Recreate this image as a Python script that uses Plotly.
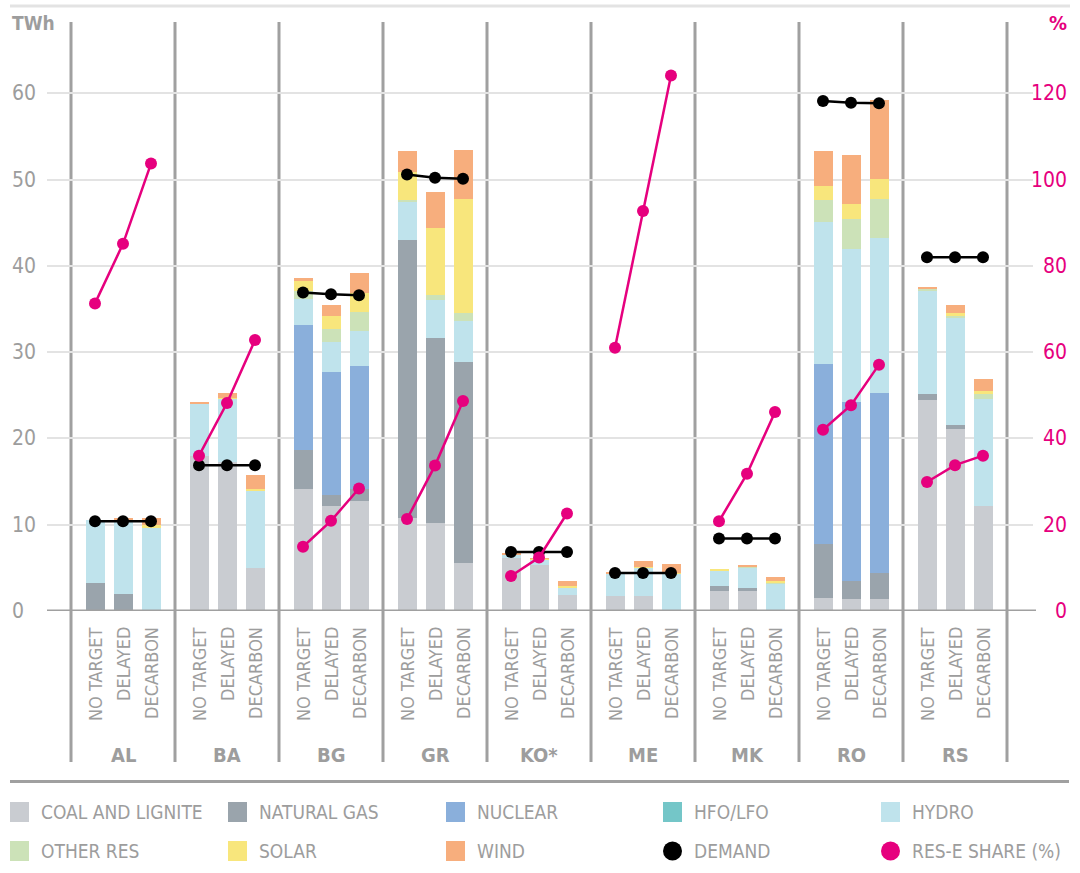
import plotly.graph_objects as go

# ---------------- data ----------------
countries = ["AL", "BA", "BG", "GR", "KO*", "ME", "MK", "RO", "RS"]
scenarios = ["NO TARGET", "DELAYED", "DECARBON"]

# TWh per technology, ordered country by country (NO TARGET, DELAYED, DECARBON)
coal_lignite = [0, 0, 0,  18.0, 17.3, 5.0,  14.1, 12.2, 12.7,  10.8, 10.2, 5.6,  6.1, 5.3, 1.8,
                1.75, 1.75, 0,  2.3, 2.3, 0,  1.5, 1.4, 1.4,  24.4, 21.1, 12.2]
natural_gas = [3.3, 2.0, 0,  0, 0, 0,  4.6, 1.2, 1.4,  32.2, 21.4, 23.3,  0, 0, 0,
               0, 0, 0,  0.6, 0.35, 0,  6.3, 2.1, 3.0,  0.7, 0.4, 0]
nuclear = [0, 0, 0,  0, 0, 0,  14.4, 14.3, 14.3,  0, 0, 0,  0, 0, 0,
           0, 0, 0,  0, 0, 0,  20.8, 20.7, 20.9,  0, 0, 0]
hfo_lfo = [0, 0, 0,  0, 0, 0,  0, 0, 0,  0, 0, 0,  0, 0, 0,
           0, 0, 0,  0, 0, 0,  0, 0, 0,  0, 0, 0]
hydro = [7.3, 8.5, 9.6,  6.1, 7.3, 9.0,  3.1, 3.5, 4.1,  4.5, 4.5, 4.7,  0.4, 0.7, 0.9,
         2.65, 3.25, 4.3,  1.8, 2.35, 3.2,  16.5, 17.7, 17.9,  12.1, 12.5, 12.4]
other_res = [0, 0, 0,  0, 0, 0,  0.9, 1.5, 2.1,  0.1, 0.5, 0.9,  0, 0, 0,
             0, 0, 0,  0, 0.1, 0.1,  2.5, 3.5, 4.6,  0.2, 0.3, 0.6]
solar = [0, 0, 0.35,  0, 0.1, 0.15,  1.2, 1.5, 2.2,  3.3, 7.8, 13.3,  0, 0.05, 0.2,
         0, 0.1, 0.15,  0.1, 0.05, 0.15,  1.6, 1.8, 2.3,  0, 0.2, 0.3]
wind = [0, 0.3, 0.85,  0.15, 0.55, 1.65,  0.3, 1.3, 2.4,  2.4, 4.2, 5.6,  0.15, 0.05, 0.6,
        0.05, 0.7, 1.05,  0, 0.15, 0.5,  4.1, 5.6, 9.1,  0.2, 1.0, 1.4]

demand = [10.4, 10.4, 10.4,  16.9, 16.9, 16.9,  36.9, 36.7, 36.6,  50.6, 50.2, 50.1,  6.85, 6.85, 6.85,
          4.4, 4.4, 4.4,  8.4, 8.4, 8.4,  59.1, 58.9, 58.85,  41.0, 41.0, 41.0]
res_share = [71.3, 85.1, 103.7,  36.0, 48.2, 62.8,  14.9, 20.9, 28.4,  21.3, 33.7, 48.7,  8.1, 12.4, 22.6,
             61.0, 92.7, 124.1,  20.8, 31.8, 46.1,  42.0, 47.7, 57.1,  29.9, 33.8, 36.0]

left_ticks = [0, 10, 20, 30, 40, 50, 60]
right_ticks = [0, 20, 40, 60, 80, 100, 120]

# ---------------- style ----------------
FONT = "Liberation Sans Narrow, Arial Narrow, DejaVu Sans Condensed, sans-serif"
GREY_TXT = "#9d9d9d"
MAGENTA = "#e6007e"
SEP = "#a0a0a0"

tech = [
    ("COAL AND LIGNITE", coal_lignite, "#c9ccd1"),
    ("NATURAL GAS", natural_gas, "#9aa4ac"),
    ("NUCLEAR", nuclear, "#8aafdb"),
    ("HFO/LFO", hfo_lfo, "#74c6c8"),
    ("HYDRO", hydro, "#bfe3ec"),
    ("OTHER RES", other_res, "#cce2b8"),
    ("SOLAR", solar, "#f8e67c"),
    ("WIND", wind, "#f7ae7d"),
]

OFF = 28 / 104
BW = 19 / 104
xpos = [g + (j - 1) * OFF for g in range(len(countries)) for j in range(len(scenarios))]

fig = go.Figure()
for name, vals, col in tech:
    fig.add_trace(go.Bar(x=xpos, y=vals, name=name, width=BW,
                         marker=dict(color=col, line=dict(width=0)), showlegend=False))

# lines broken between countries
def broken(xs, ys):
    bx, by = [], []
    for i in range(len(xs)):
        bx.append(xs[i]); by.append(ys[i])
        if i % 3 == 2:
            bx.append(None); by.append(None)
    return bx, by

dx, dy = broken(xpos, demand)
fig.add_trace(go.Scatter(x=dx, y=dy, mode="lines+markers", name="DEMAND",
                         line=dict(color="black", width=2.5),
                         marker=dict(color="black", size=12), showlegend=False))
rx, ry = broken(xpos, res_share)
fig.add_trace(go.Scatter(x=rx, y=ry, mode="lines+markers", name="RES-E SHARE (%)", yaxis="y2",
                         line=dict(color=MAGENTA, width=2.5),
                         marker=dict(color=MAGENTA, size=12), showlegend=False))

# ---------------- layout geometry ----------------
W, H = 1080, 873
L, R, T, B = 47, 1033, 7, 611
def px(xp):
    return (xp - L) / (R - L)
def py(yp):
    return (B - yp) / (B - T)

shapes = []
annotations = []

# group separators
for g in range(len(countries) + 1):
    shapes.append(dict(type="line", xref="x", yref="paper", x0=g - 0.5, x1=g - 0.5,
                       y0=py(762), y1=py(22), line=dict(color=SEP, width=3), layer="below"))
# baseline
shapes.append(dict(type="line", xref="paper", yref="y", x0=0, x1=px(1036), y0=0, y1=0,
                   line=dict(color=SEP, width=3)))
# top decorative line
shapes.append(dict(type="line", xref="paper", yref="paper", x0=px(10), x1=px(1070), y0=py(6), y1=py(6),
                   line=dict(color="#e3e3e3", width=3)))
# line above legend
shapes.append(dict(type="line", xref="paper", yref="paper", x0=px(10), x1=px(1069), y0=py(781.5), y1=py(781.5),
                   line=dict(color=SEP, width=3)))

# tick labels
for v in left_ticks:
    annotations.append(dict(x=px(10), y=v, xref="paper", yref="y", text=str(v), showarrow=False,
                            xanchor="left", yanchor="middle",
                            font=dict(family=FONT, size=21, color=GREY_TXT)))
for v in right_ticks:
    annotations.append(dict(x=px(1069), y=v, xref="paper", yref="y2", text=str(v), showarrow=False,
                            xanchor="right", yanchor="middle",
                            font=dict(family=FONT, size=21, color=MAGENTA)))
annotations.append(dict(x=px(10), y=py(23), xref="paper", yref="paper", text="<b>TWh</b>", showarrow=False,
                        xanchor="left", yanchor="middle", font=dict(family=FONT, size=19, color=GREY_TXT)))
annotations.append(dict(x=px(1069), y=py(23), xref="paper", yref="paper", text="<b>%</b>", showarrow=False,
                        xanchor="right", yanchor="middle", font=dict(family=FONT, size=20, color=MAGENTA)))

# scenario labels
for i, xv in enumerate(xpos):
    annotations.append(dict(x=xv, y=py(625), xref="x", yref="paper", text=scenarios[i % 3],
                            textangle=-90, showarrow=False, xanchor="center", yanchor="top",
                            font=dict(family=FONT, size=18, color=GREY_TXT)))
# country labels
for g, c in enumerate(countries):
    annotations.append(dict(x=g, y=py(755), xref="x", yref="paper", text="<b>" + c + "</b>",
                            showarrow=False, xanchor="center", yanchor="middle",
                            font=dict(family=FONT, size=20, color=GREY_TXT)))

# legend (manual)
legend_items = [(n, c, "rect") for n, _, c in tech] \
    + [("DEMAND", "black", "circle"), ("RES-E SHARE (%)", MAGENTA, "circle")]
cols_x = [10, 228, 446, 663, 881]
rows_y = [812, 851]
for k, (n, c, kind) in enumerate(legend_items):
    r, cc = divmod(k, 5)
    x0 = cols_x[cc]; yc = rows_y[r]
    if kind == "rect":
        shapes.append(dict(type="rect", xref="paper", yref="paper", x0=px(x0), x1=px(x0 + 19),
                           y0=py(yc + 10), y1=py(yc - 10), fillcolor=c, line=dict(width=0)))
    else:
        shapes.append(dict(type="circle", xref="paper", yref="paper", x0=px(x0), x1=px(x0 + 19),
                           y0=py(yc + 9.5), y1=py(yc - 9.5), fillcolor=c, line=dict(width=0)))
    annotations.append(dict(x=px(x0 + 29), y=py(yc), xref="paper", yref="paper", text=n, showarrow=False,
                            xanchor="left", yanchor="middle",
                            font=dict(family=FONT, size=19, color=GREY_TXT)))

fig.update_layout(
    width=W, height=H,
    margin=dict(l=L, r=W - R, t=T, b=H - B, pad=0),
    paper_bgcolor="white", plot_bgcolor="white",
    barmode="stack", bargap=0,
    font=dict(family=FONT, color=GREY_TXT),
    xaxis=dict(range=[-0.5 - 24 / 104, 8.5 + 26 / 104], showgrid=False, zeroline=False,
               showticklabels=False, fixedrange=True),
    yaxis=dict(range=[0, 70], tickvals=left_ticks, showticklabels=False, showgrid=True,
               gridcolor="#e3e3e3", gridwidth=2, zeroline=False, fixedrange=True),
    yaxis2=dict(range=[0, 140], overlaying="y", side="right", showticklabels=False,
                showgrid=False, zeroline=False, fixedrange=True),
    shapes=shapes, annotations=annotations, showlegend=False,
)

fig.write_html("out.html", config={"displayModeBar": False},
               post_script="document.body.style.margin='0';document.body.style.overflow='hidden';")
